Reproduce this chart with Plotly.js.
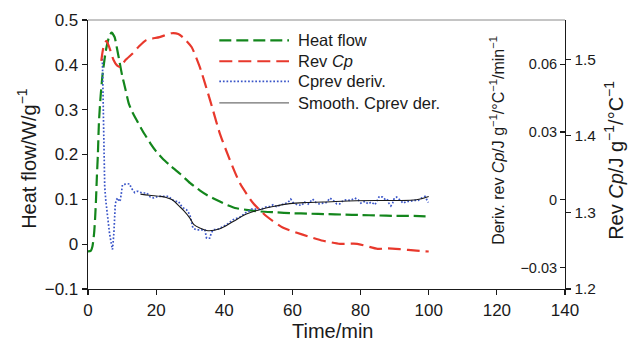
<!DOCTYPE html>
<html>
<head>
<meta charset="utf-8">
<script src="https://cdn.plot.ly/plotly-3.0.1.min.js"></script>
<style>html,body{margin:0;padding:0;background:#fff;}#chart{width:628px;height:342px;}</style>
</head>
<body>
<div id="chart"></div>
<script>
// ---- Data ----
// Heat flow (left axis, W/g)
var hfTime = [0, 0.8, 1.3, 1.8, 2.1, 2.35, 2.6, 2.9, 3.2, 3.7, 4.3, 5.2, 6.1, 6.9, 7.8, 8.5, 9.3, 10, 11, 12, 13, 14.4, 16, 18.3, 20, 22, 24.2, 27, 30, 32.8, 35, 38.7, 41, 43.6, 47, 50.4, 55, 60, 65, 70, 75, 80, 85, 90, 95, 100];
var heatFlow = [-0.016, -0.015, -0.005, 0.025, 0.06, 0.099, 0.15, 0.2, 0.27, 0.33, 0.38, 0.43, 0.46, 0.472, 0.462, 0.437, 0.405, 0.377, 0.345, 0.313, 0.295, 0.275, 0.253, 0.225, 0.207, 0.19, 0.175, 0.157, 0.136, 0.12, 0.109, 0.095, 0.087, 0.08, 0.076, 0.073, 0.071, 0.069, 0.068, 0.067, 0.066, 0.065, 0.064, 0.063, 0.063, 0.062];

// Reversing Cp (outer right axis, J/g/°C)
var cpTime = [3.9, 4.5, 5.4, 6.3, 7.5, 8.5, 9.4, 11, 13.2, 15, 17.1, 21, 24.5, 26.5, 28, 30.4, 32.8, 35.8, 38.7, 41.6, 44.6, 48.5, 52.4, 57.3, 63, 69, 74, 79, 85, 88, 91.5, 96.4, 100];
var revCp = [1.498, 1.515, 1.524, 1.515, 1.499, 1.492, 1.490, 1.499, 1.508, 1.517, 1.525, 1.529, 1.534, 1.533, 1.528, 1.516, 1.490, 1.447, 1.403, 1.369, 1.338, 1.312, 1.295, 1.280, 1.271, 1.263, 1.259, 1.259, 1.2525, 1.253, 1.252, 1.250, 1.249];

// Derivative of reversing Cp (inner right axis)
var derTime = [4.2, 4.4, 4.6, 4.9, 5.2, 5.5, 5.8, 6.3, 6.9, 7.2, 7.6, 7.8, 8.0, 8.3, 8.8, 9.1, 9.5, 9.8, 10.1, 10.5, 11.3, 12.2, 12.7, 13.4, 13.7, 14.4, 14.7, 15.9, 17.3, 18.3, 19.3, 20.5, 21.7, 22.7, 23.7, 24.7, 25.7, 26.6, 27.1, 28.1, 28.9, 29.9, 30.5, 30.8, 31.8, 32.8, 34.3, 34.8, 35.7, 36.2, 36.7, 38.2, 39.7, 40.6, 42.6, 44.1, 45, 46, 47, 48, 49, 49.9, 50.9, 52.2, 53.4, 54.3, 55.3, 56.8, 57.8, 58.7, 59.5, 60.2, 61.4, 62.7, 63.6, 64.6, 65.9, 66.9, 67.8, 69, 70, 71, 72, 73, 73.9, 74.9, 75.9, 76.9, 78.3, 79.3, 80.1, 81.3, 82.2, 83.2, 84.2, 84.9, 85.5, 86.5, 87.1, 87.8, 88.3, 88.9, 89.4, 89.9, 90.6, 91.5, 92.5, 93.5, 94.5, 95.4, 96.9, 97.9, 98.9, 99.9];
var cpDeriv = [0.064, 0.045, 0.015, 0.006, 0.0, -0.004, -0.0088, -0.0147, -0.020, -0.022, -0.0147, -0.0074, -0.0022, 0.0, 0.0008, -0.0008, 0.0, 0.003, 0.0066, 0.0068, 0.0071, 0.0071, 0.0052, 0.0037, 0.0032, 0.0037, 0.0037, 0.003, 0.003, 0.0012, 0.0008, 0.0015, 0.0015, 0.0012, 0.0015, 0.0, -0.0007, -0.0007, -0.0022, -0.0037, -0.0044, -0.0066, -0.0103, -0.0125, -0.0133, -0.0133, -0.0133, -0.0170, -0.0170, -0.0147, -0.0133, -0.0130, -0.0118, -0.0111, -0.0088, -0.0081, -0.0074, -0.0059, -0.0052, -0.0041, -0.0041, -0.0044, -0.0041, -0.0032, -0.0030, -0.0022, -0.0030, -0.0022, -0.0015, -0.0012, 0.0003, -0.0012, -0.0022, -0.0025, -0.0010, -0.0019, 0.0003, -0.0012, -0.0018, -0.0015, -0.0012, 0.00075, -0.0003, -0.0018, -0.0018, -0.0003, 0.0, -0.0003, 0.00075, 0.0, -0.0015, -0.0007, -0.0018, -0.0010, -0.0022, -0.0003, 0.0015, 0.0012, 0.0003, 0.0004, -0.0015, -0.0027, -0.0015, 0.00075, 0.0012, 0.0, -0.0015, -0.0007, -0.0007, -0.0003, -0.0003, 0.00075, 0.0015, -0.0012];

// Smoothed derivative
var smoothTime = [15.4, 18, 21.3, 23, 24.7, 26.9, 28.1, 29.9, 31.1, 32.8, 35.2, 38.7, 42.6, 46.5, 50.4, 54.3, 59.2, 64.1, 69, 78.8, 88.6, 96.4, 100];
var smoothDeriv = [0.0025, 0.002, 0.0015, 0.001, 0.0, -0.003, -0.0048, -0.0081, -0.011, -0.0125, -0.0137, -0.0128, -0.0096, -0.0063, -0.0044, -0.003, -0.0017, -0.0012, -0.001, -0.0004, -0.0003, 0.0, 0.0015];

// Tick labels
var xTicks = [0, 20, 40, 60, 80, 100, 120, 140];
var hfTicks = [-0.1, 0, 0.1, 0.2, 0.3, 0.4, 0.5];
var hfTickText = ['\u22120.1', '0', '0.1', '0.2', '0.3', '0.4', '0.5'];
var derTicks = [-0.03, 0, 0.03, 0.06];
var derTickText = ['\u22120.03', '0', '0.03', '0.06'];
var cpTicks = [1.2, 1.3, 1.4, 1.5];
var cpTickText = ['1.2', '1.3', '1.4', '1.5'];

// Legend entries
var legendNames = ['Heat flow', 'Rev <i>Cp</i>', 'Cprev deriv.', 'Smooth. Cprev der.'];

// ---- Styles ----
var GREEN = '#13861c', RED = '#e8382c', BLUE = '#3a55c8', BLACK = '#1a1a1a';
var FONT = 'Liberation Sans, Arial, Helvetica, sans-serif';
var BLUE_DASH = '1.7px,1.9px';

var traces = [
  {x: derTime, y: cpDeriv, yaxis: 'y2', mode: 'lines', name: 'Cprev deriv.',
   line: {color: BLUE, width: 1.7, dash: BLUE_DASH}},
  {x: smoothTime, y: smoothDeriv, yaxis: 'y2', mode: 'lines', name: 'Smooth. Cprev der.',
   line: {color: BLACK, width: 1.1, shape: 'spline'}},
  {x: cpTime, y: revCp, yaxis: 'y3', mode: 'lines', name: 'Rev Cp',
   line: {color: RED, width: 2.2, dash: '13px,6px', shape: 'spline', smoothing: 0.6}},
  {x: hfTime, y: heatFlow, yaxis: 'y', mode: 'lines', name: 'Heat flow',
   line: {color: GREEN, width: 2.2, dash: '12px,5px', shape: 'spline', smoothing: 0.6}}
];

// plot area in px: left 88, right 565, top 20, bottom 289.3
function px2paperX(px) { return (px - 88) / 477; }
function px2paperY(py) { return (289.3 - py) / 269.3; }

var legRows = [40.3, 61.3, 81.5, 103];
var legStyles = [
  {color: GREEN, width: 2.2, dash: '12px,5px'},
  {color: RED, width: 2.2, dash: '13px,6px'},
  {color: BLUE, width: 1.7, dash: BLUE_DASH},
  {color: '#707070', width: 1.4, dash: 'solid'}
];

var shapes = [
  {type: 'line', xref: 'paper', yref: 'paper', x0: 0, x1: 1, y0: 1, y1: 1,
   line: {color: '#8a8a8a', width: 1}}
];
var annotations = [];
for (var i = 0; i < legendNames.length; i++) {
  shapes.push({type: 'line', xref: 'paper', yref: 'paper',
    x0: px2paperX(219.3), x1: px2paperX(289), y0: px2paperY(legRows[i]), y1: px2paperY(legRows[i]),
    line: legStyles[i]});
  annotations.push({xref: 'paper', yref: 'paper', x: px2paperX(296), y: px2paperY(legRows[i]),
    xanchor: 'left', yanchor: 'middle', showarrow: false, text: legendNames[i],
    font: {family: FONT, size: 16.5, color: '#1a1a1a'}});
}

annotations.push({xref: 'paper', yref: 'paper', x: px2paperX(332.5), y: px2paperY(331),
  xanchor: 'center', yanchor: 'middle', showarrow: false, text: 'Time/min',
  font: {family: FONT, size: 20, color: '#1a1a1a'}});
annotations.push({xref: 'paper', yref: 'paper', x: px2paperX(27), y: px2paperY(158),
  xanchor: 'center', yanchor: 'middle', showarrow: false, textangle: -90,
  text: 'Heat flow/W/g<sup>\u22121</sup>',
  font: {family: FONT, size: 20, color: '#1a1a1a'}});
annotations.push({xref: 'paper', yref: 'paper', x: px2paperX(497), y: px2paperY(141),
  xanchor: 'center', yanchor: 'middle', showarrow: false, textangle: -90,
  text: 'Deriv. rev <i>Cp</i>/J g<sup>\u22121</sup>/\u00b0C<sup>\u22121</sup>/min<sup>\u22121</sup>',
  font: {family: FONT, size: 16, color: '#1a1a1a'}});
annotations.push({xref: 'paper', yref: 'paper', x: px2paperX(614), y: px2paperY(161),
  xanchor: 'center', yanchor: 'middle', showarrow: false, textangle: -90,
  text: 'Rev <i>Cp</i>/J g<sup>\u22121</sup>/\u00b0C<sup>\u22121</sup>',
  font: {family: FONT, size: 20, color: '#1a1a1a'}});

var axisCommon = {showgrid: false, zeroline: false, showline: true, linecolor: '#1a1a1a',
  linewidth: 1.3, tickcolor: '#1a1a1a', tickwidth: 1.2, fixedrange: true};

var layout = {
  width: 628, height: 342,
  margin: {l: 88, r: 63, t: 20, b: 53, pad: 0},
  paper_bgcolor: '#ffffff', plot_bgcolor: '#ffffff',
  showlegend: false,
  font: {family: FONT, color: '#1a1a1a'},
  xaxis: Object.assign({}, axisCommon, {range: [0, 140], tickvals: xTicks, ticks: 'outside', ticklen: 5,
    tickfont: {family: FONT, size: 17, color: '#1a1a1a'}}),
  yaxis: Object.assign({}, axisCommon, {range: [-0.1, 0.5], tickvals: hfTicks, ticktext: hfTickText,
    ticks: 'outside', ticklen: 5, tickfont: {family: FONT, size: 17, color: '#1a1a1a'}}),
  // inner derivative axis: a left-sided axis placed at the right edge, so its labels fall inside the plot
  yaxis2: Object.assign({}, axisCommon, {overlaying: 'y', side: 'left', anchor: 'free', position: 1,
    range: [-0.0395, 0.0796], tickvals: derTicks, ticktext: derTickText,
    ticks: 'outside', ticklen: 5, showline: false,
    tickfont: {family: FONT, size: 14.5, color: '#1a1a1a'}}),
  yaxis3: Object.assign({}, axisCommon, {overlaying: 'y', side: 'right', anchor: 'x',
    range: [1.2, 1.5513], tickvals: cpTicks, ticktext: cpTickText,
    ticks: 'outside', ticklen: 5, tickfont: {family: FONT, size: 15.5, color: '#1a1a1a'}}),
  shapes: shapes,
  annotations: annotations
};

Plotly.newPlot('chart', traces, layout, {displayModeBar: false, staticPlot: true});
</script>
</body>
</html>
